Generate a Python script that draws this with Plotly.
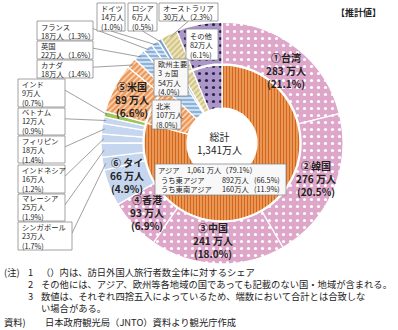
import math
import numpy as np
import plotly.graph_objects as go

# ---------------- data ----------------
outer_names = ["台湾", "韓国", "中国", "香港", "タイ", "シンガポール", "マレーシア",
               "インドネシア", "フィリピン", "ベトナム", "インド", "米国", "カナダ",
               "英国", "フランス", "ドイツ", "ロシア", "オーストラリア", "その他"]
outer_visitors = [283, 276, 241, 93, 66, 23, 25, 16, 18, 12, 9, 89, 18, 22, 18, 14, 6, 30, 82]
outer_share = [21.1, 20.5, 18.0, 6.9, 4.9, 1.7, 1.9, 1.2, 1.4, 0.9, 0.7, 6.6, 1.4,
               1.6, 1.3, 1.0, 0.5, 2.3, 6.1]
outer_group = ["pink", "pink", "pink", "pink", "lblue", "lblue", "lblue", "lblue", "lblue",
               "lblue", "green", "na", "na", "eu", "eu", "eu", "ru", "aus", "other"]

middle_names = ["アジア", "北米", "欧州主要3ヵ国", "ロシア", "オーストラリア", "その他"]
middle_visitors = [1061, 107, 54, 6, 30, 82]
middle_share = [79.1, 8.0, 4.0, 0.5, 2.3, 6.1]
middle_group = ["asia", "na", "eu", "ru", "aus", "other"]

total_visitors = "1,341"
sub_names = ["うち東アジア", "うち東南アジア"]
sub_visitors = [892, 160]
sub_share = [66.5, 11.9]

note_head = "(注)"
note_nums = ["1", "2", "3"]
note_lines = [
    "（）内は、訪日外国人旅行者数全体に対するシェア",
    "その他には、アジア、欧州等各地域の国であっても記載のない国・地域が含まれる。",
    "数値は、それぞれ四捨五入によっているため、端数において合計とは合致しな",
    "い場合がある。",
]
source_head = "資料)"
source_text = "日本政府観光局（JNTO）資料より観光庁作成"

# ---------------- styles ----------------
STYLE = {
    "pink":  dict(color="#dea6c8", shape=".", fg="#ffffff", size=7, sol=0.16),
    "lblue": dict(color="#c6d6ef", shape="", fg="#c6d6ef", size=6, sol=0.3),
    "green": dict(color="#9cc65c", shape="", fg="#9cc65c", size=6, sol=0.3),
    "na":    dict(color="#ec9657", shape="/", fg="#fde2cb", size=4, sol=0.35),
    "eu":    dict(color="#8db3dc", shape="-", fg="#e9f1fb", size=4, sol=0.35),
    "ru":    dict(color="#7fa6d3", shape="", fg="#7fa6d3", size=6, sol=0.3),
    "aus":   dict(color="#ebe2b8", shape="/", fg="#c8b978", size=4, sol=0.35),
    "other": dict(color="#aa96c9", shape=".", fg="#2e2146", size=7, sol=0.16),
    "asia":  dict(color="#f0a060", shape="|", fg="#d2661c", size=3, sol=0.45),
}
FONT = "Noto Sans CJK JP"
W, H = 398, 330
CX, CY = 222, 143
R_OUT, R_MID, R_HOLE = 121, 78, 35
SMALL = 7.3
NOTE = 9.3


def style_arrays(groups):
    return dict(
        colors=[STYLE[g]["color"] for g in groups],
        pattern=dict(
            shape=[STYLE[g]["shape"] for g in groups],
            bgcolor=[STYLE[g]["color"] for g in groups],
            fgcolor=[STYLE[g]["fg"] for g in groups],
            size=[STYLE[g]["size"] for g in groups],
            solidity=[STYLE[g]["sol"] for g in groups],
            fillmode="replace",
        ),
    )


def dom(r):
    return dict(x=[(CX - r) / W, (CX + r) / W],
                y=[(H - CY - r) / H, (H - CY + r) / H])


fig = go.Figure()
so = style_arrays(outer_group)
fig.add_trace(go.Pie(
    labels=outer_names, values=outer_share, sort=False, direction="clockwise", rotation=0,
    hole=(R_MID + 1) / R_OUT, domain=dom(R_OUT), textinfo="none", hoverinfo="skip",
    marker=dict(colors=so["colors"], pattern=so["pattern"], line=dict(color="white", width=1.3)),
    showlegend=False,
))
sm = style_arrays(middle_group)
fig.add_trace(go.Pie(
    labels=middle_names, values=middle_share, sort=False, direction="clockwise", rotation=0,
    hole=R_HOLE / R_MID, domain=dom(R_MID), textinfo="none", hoverinfo="skip",
    marker=dict(colors=sm["colors"], pattern=sm["pattern"], line=dict(color="white", width=1.3)),
    showlegend=False,
))


def px(x):
    return x / W


def py(y):
    return 1 - y / H


def text(x, y, s, size=SMALL, bold=False, anchor="left", align=None, color="#222"):
    if bold:
        s = "<b>" + s + "</b>"
    fig.add_annotation(x=px(x), y=py(y), xref="paper", yref="paper", text=s,
                       showarrow=False, xanchor=anchor, yanchor="middle",
                       align=align or anchor, borderpad=0,
                       font=dict(family=FONT, size=size, color=color))


def box(x0, y0, x1, y1, fill="white"):
    fig.add_shape(type="rect", xref="paper", yref="paper", x0=px(x0), x1=px(x1),
                  y0=py(y1), y1=py(y0), line=dict(color="#8a8a8a", width=0.8), fillcolor=fill)


def line(x0, y0, x1, y1):
    fig.add_shape(type="line", xref="paper", yref="paper", x0=px(x0), y0=py(y0),
                  x1=px(x1), y1=py(y1), line=dict(color="#777", width=0.7))


# slice mid-angle points from the data
cum = np.cumsum(outer_share)
mids = cum - np.array(outer_share) / 2
tot = cum[-1]


def slice_point(i, r):
    th = math.radians(mids[i] / tot * 360)
    return CX + r * math.sin(th), CY - r * math.cos(th)


# ---------- big ring labels ----------
ring_labels = {  # index: (rank mark, x, y of middle line)
    0: ("①", 286, 70),
    1: ("②", 316, 178),
    2: ("③", 213, 240),
    3: ("④", 147, 212),
    4: ("⑥ ", 127, 175),
    11: ("⑤", 132, 100),
}
for i, (mark, x, y) in ring_labels.items():
    s = (f"{mark}{outer_names[i]}<br>{outer_visitors[i]} 万人<br>"
         f"({outer_share[i]:.1f}%)")
    text(x, y, s, size=10, bold=True, anchor="center")

# ---------- callout boxes with leader lines ----------
callouts = {  # index: (x0, y0, x1, y1, two_line, attach)
    14: (37, 21, 93, 40, True, "right"),
    13: (37, 41, 93, 59, True, "right"),
    12: (37, 60, 93, 78, True, "right"),
    10: (18, 79, 65, 107, False, "right"),
    9: (18, 108, 65, 135, False, "right"),
    8: (18, 136, 65, 163, False, "right"),
    7: (18, 165, 65, 193, False, "right"),
    6: (18, 194, 65, 221, False, "right"),
    5: (18, 222, 72, 250, False, "right"),
    15: (97, 3, 125, 31, False, "bottom"),
    16: (128, 3, 157, 31, False, "bottom"),
    17: (159, 3, 218, 21, True, "bottom"),
}
for i, (x0, y0, x1, y1, two, att) in callouts.items():
    if att == "right":
        ax, ay = x1, y0 + (y1 - y0) * 0.4
    else:
        ax, ay = (x0 + x1) / 2, y1
    ex, ey = slice_point(i, R_OUT - 3)
    line(ax, ay, ex, ey)
    box(x0, y0, x1, y1)
    if two:
        s = f"{outer_names[i]}<br>{outer_visitors[i]}万人（{outer_share[i]:.1f}%）"
    else:
        s = f"{outer_names[i]}<br>{outer_visitors[i]}万人<br>({outer_share[i]:.1f}%)"
    text(x0 + 3, (y0 + y1) / 2 + 0.5, s)

# その他 (inside)
box(186, 29, 218, 60)
text(189, 45, f"{outer_names[18]}<br>{outer_visitors[18]}万人<br>({outer_share[18]:.1f}%)")

# 欧州主要3ヵ国
box(154, 59, 188, 96, fill="#f8f8f8")
text(157, 78, f"欧州主要<br>3 ヵ国<br>{middle_visitors[2]}万人<br>({middle_share[2]:.1f}%)")

# 北米
box(152, 100, 181, 129, fill="#f8f8f8")
text(155, 115, f"{middle_names[1]}<br>{middle_visitors[1]}万人<br>({middle_share[1]:.1f}%)")

# アジア
box(155, 164, 286, 195, fill="#f8f8f8")
text(157, 169.5, f"{middle_names[0]}　{middle_visitors[0]:,} 万人（{middle_share[0]:.1f}%）")
text(160, 184.5, "<br>".join(sub_names))
text(250, 184.5, "<br>".join(f"{v}万人" for v in sub_visitors), anchor="right")
text(253, 184.5, "<br>".join(f"({s:.1f}%)" for s in sub_share))

# center
text(219, 143, f"総計<br>{total_visitors}万人", size=10, anchor="center")

# top-right tag
text(358, 12, "【推計値】", size=9, bold=True, anchor="center")

# notes (multi-line blocks)
LS = NOTE * 1.3
text(3, 272, note_head, size=NOTE)
text(27, 272 + LS, "<br>".join(note_nums), size=NOTE)
text(40, 272 + 1.5 * LS, "<br>".join(note_lines), size=NOTE)
text(3, 322, source_head, size=NOTE)
text(44, 322, source_text, size=NOTE)

fig.update_layout(
    width=W, height=H, margin=dict(l=0, r=0, t=0, b=0),
    paper_bgcolor="white", plot_bgcolor="white", showlegend=False,
    font=dict(family=FONT),
)
fig.write_html("out.html")
